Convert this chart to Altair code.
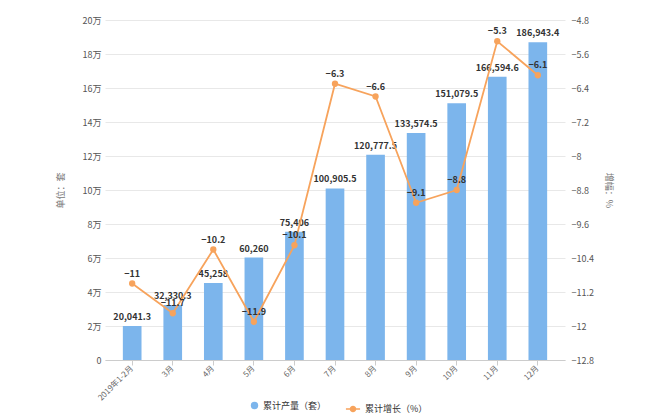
import altair as alt
import pandas as pd

months = ["2019年1-2月", "3月", "4月", "5月", "6月", "7月", "8月", "9月", "10月", "11月", "12月"]
output = [20041.3, 32330.3, 45258, 60260, 75406, 100905.5, 120777.5, 133574.5, 151079.5, 166594.6, 186943.4]
growth = [-11, -11.7, -10.2, -11.9, -10.1, -6.3, -6.6, -9.1, -8.8, -5.3, -6.1]

left_ticks = [0, 20000, 40000, 60000, 80000, 100000, 120000, 140000, 160000, 180000, 200000]
right_ticks = [-12.8, -12, -11.2, -10.4, -9.6, -8.8, -8, -7.2, -6.4, -5.6, -4.8]

s_bar = "累计产量（套）"
s_line = "累计增长（%）"
BLUE = "#7cb5ec"
ORANGE = "#f7a35c"
FONT = "Noto Sans CJK SC"

df = pd.DataFrame({"month": months, "output": output, "growth": growth})

x = alt.X("month:N", sort=months, title=None,
          scale=alt.Scale(paddingInner=0.54, paddingOuter=0.44),
          axis=alt.Axis(labelAngle=-45, labelAlign="right", labelBaseline="middle",
                        labelFontSize=8, labelColor="#666", labelFont=FONT, labelOverlap=False,
                        domainColor="#ccc", tickColor="#ccc", tickSize=5, labelPadding=2))

fill = alt.Fill("series:N",
                scale=alt.Scale(domain=[s_bar], range=[BLUE]),
                legend=alt.Legend(title=None, orient="none", legendX=145, legendY=381,
                                  labelFont=FONT, labelFontSize=9, labelColor="#333",
                                  symbolType="circle", symbolSize=55, symbolStrokeWidth=0,
                                  symbolOpacity=1))

stroke = alt.Stroke("series:N",
                    scale=alt.Scale(domain=[s_line], range=[ORANGE]),
                    legend=alt.Legend(title=None, orient="none", legendX=240, legendY=381,
                                      labelFont=FONT, labelFontSize=9, labelColor="#333",
                                      symbolType="M-1,0H1M-0.36,0a0.36,0.36 0 1,0 0.72,0a0.36,0.36 0 1,0 -0.72,0",
                                      symbolSize=200, symbolFillColor=ORANGE, symbolStrokeColor=ORANGE,
                                      symbolStrokeWidth=1.5, symbolOpacity=1))

yl = alt.Y("output:Q", title="单位：套",
           scale=alt.Scale(domain=[0, 200000], nice=False, zero=True),
           axis=alt.Axis(values=left_ticks, orient="left", domain=False, ticks=False,
                         grid=True, gridColor="#e8e8e8", labelOverlap=False,
                         labelExpr="datum.value == 0 ? '0' : format(datum.value / 10000, '~g') + '万'",
                         labelFontSize=9, labelColor="#555", labelFont=FONT, labelPadding=4,
                         titleFont=FONT, titleFontSize=9, titleColor="#777", titleFontWeight="normal",
                         titleX=-40, titleY=170))

yr = alt.Y("growth:Q", title="增幅：%",
           scale=alt.Scale(domain=[-12.8, -4.8], nice=False, zero=False),
           axis=alt.Axis(values=right_ticks, orient="right", domain=False, ticks=False, grid=False,
                         labelOverlap=False,
                         labelExpr="format(datum.value, '.1~f')",
                         labelFontSize=9, labelColor="#555", labelFont=FONT, labelPadding=6,
                         titleFont=FONT, titleFontSize=9, titleColor="#777", titleFontWeight="normal",
                         titleAngle=90, titleX=38, titleY=170))

base = alt.Chart(df)

bars = base.transform_calculate(series="'" + s_bar + "'").mark_bar().encode(
    x=x, y=yl, fill=fill)
bar_text = base.mark_text(baseline="bottom", dy=-4, fontSize=9, fontWeight="bold",
                          color="#333", font=FONT).encode(
    x=x, y=yl, text=alt.Text("output:Q", format=",.1~f"))

line = base.transform_calculate(series="'" + s_line + "'").mark_line(
    strokeWidth=1.8).encode(x=x, y=yr, stroke=stroke)
pts = base.mark_point(filled=True, size=40, color=ORANGE, opacity=1).encode(
    x=x, y=yr)
line_text = base.mark_text(baseline="bottom", dy=-5, fontSize=9, fontWeight="bold",
                           color="#333", font=FONT).encode(
    x=x, y=yr, text=alt.Text("growth:Q", format=".1~f"))

left = alt.layer(bars, bar_text)
right = alt.layer(line, pts, line_text)

chart = alt.layer(left, right).resolve_scale(y="independent").properties(
    width=460, height=340,
    padding={"left": 97, "top": 12, "right": 77, "bottom": 60},
    autosize=alt.AutoSizeParams(type="none"),
).configure_view(stroke=None).configure_axis(labelOverlap=False)

chart.save("out.html", embed_options={"renderer": "svg", "actions": False})
